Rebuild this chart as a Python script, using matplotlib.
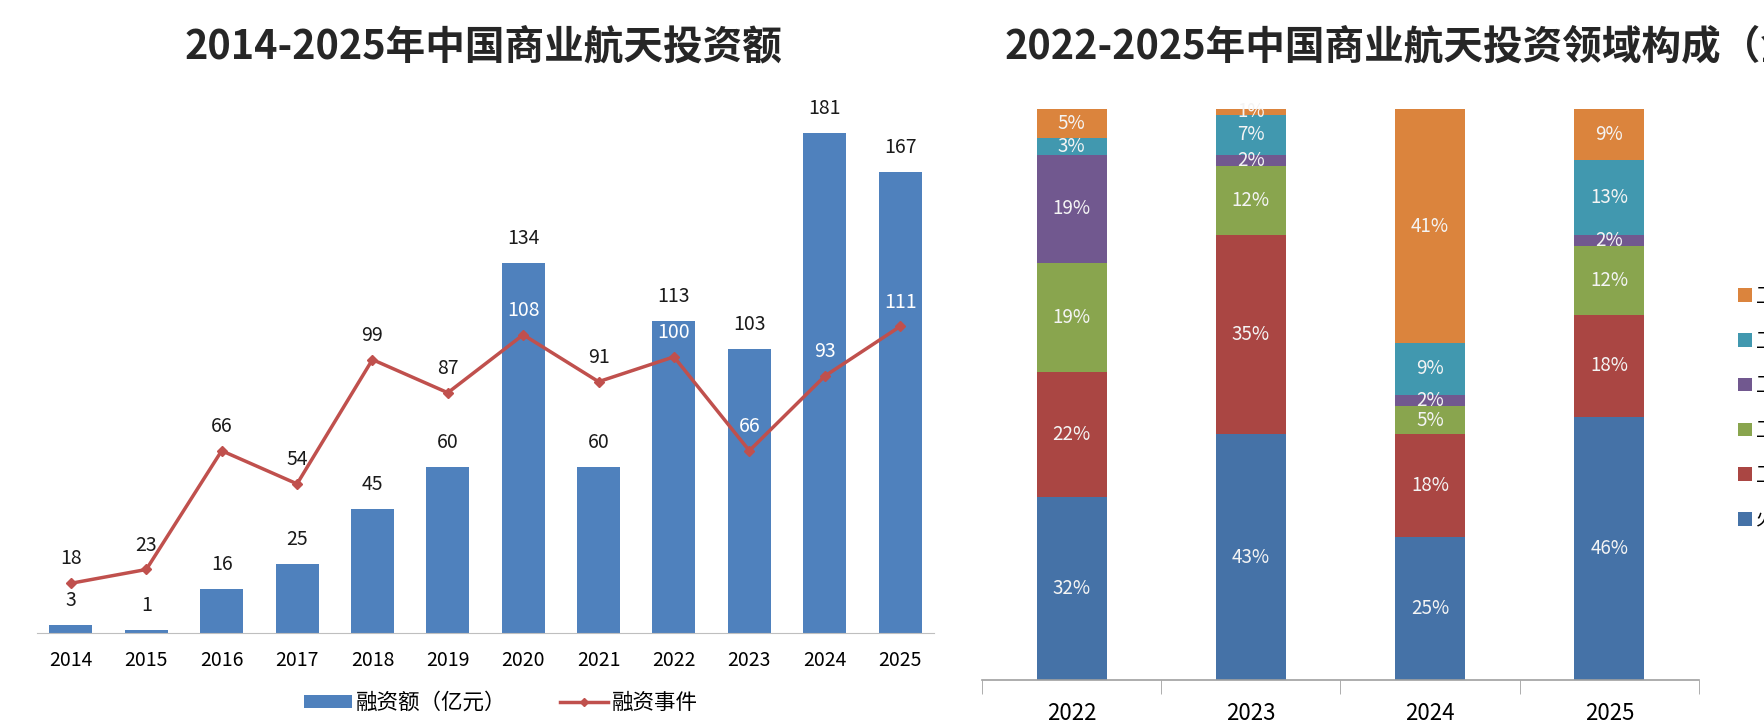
import matplotlib
matplotlib.use('Agg')
import matplotlib.pyplot as plt
from matplotlib.patches import Patch
from matplotlib.lines import Line2D
import numpy as np

plt.rcParams['font.family'] = ['Noto Sans CJK SC', 'DejaVu Sans']

# 左图: 投资额 + 融资事件
years = ['2014', '2015', '2016', '2017', '2018', '2019',
         '2020', '2021', '2022', '2023', '2024', '2025']
amount = [3, 1, 16, 25, 45, 60, 134, 60, 113, 103, 181, 167]
events = [18, 23, 66, 54, 99, 87, 108, 91, 100, 66, 93, 111]
# 事件标签落在柱子里面的用白字
event_white = [False, False, False, False, False, False,
               True, False, True, True, True, True]

# 右图: 领域构成 (%)
years_r = ['2022', '2023', '2024', '2025']
domains = ['火箭', '卫星制造', '卫星运营', '卫星应用', '卫星测控', '卫星互联网']
shares = {
    '火箭':     [32, 43, 25, 46],
    '卫星制造': [22, 35, 18, 18],
    '卫星运营': [19, 12, 5, 12],
    '卫星应用': [19, 2, 2, 2],
    '卫星测控': [3, 7, 9, 13],
    '卫星互联网': [5, 1, 41, 9],
}
colors_r = ['#4572A7', '#AA4643', '#89A54E', '#71588F', '#4198AF', '#DB843D']

W, H = 1765, 728
fig = plt.figure(figsize=(W / 100, H / 100), dpi=100)

# ---- left
ax = fig.add_axes([37 / W, (H - 633) / H, 897 / W, 533 / H])
x = np.arange(len(years))
ax.bar(x, amount, width=0.57, color='#4F81BD', zorder=2)
ax.plot(x, events, '-', color='#C0504D', linewidth=2.5, marker='D',
        markersize=5, zorder=3)
for i in range(len(years)):
    ax.annotate(str(amount[i]), (x[i], amount[i]), xytext=(0, 10),
                textcoords='offset points', ha='center', va='bottom',
                fontsize=14, color='#1a1a1a')
    ax.annotate(str(events[i]), (x[i], events[i]), xytext=(0, 10),
                textcoords='offset points', ha='center', va='bottom',
                fontsize=14, color='white' if event_white[i] else '#1a1a1a')
ax.set_xlim(-0.45, len(years) - 0.55)
ax.set_ylim(0, 193)
ax.set_xticks(x)
ax.set_xticklabels(years, fontsize=14)
ax.tick_params(axis='x', length=0, pad=12)
ax.set_yticks([])
for s in ['top', 'right', 'left']:
    ax.spines[s].set_visible(False)
ax.spines['bottom'].set_color('#bfbfbf')

fig.text(484 / W, 1 - 47 / H, '2014-2025年中国商业航天投资额',
         ha='center', va='center', fontsize=28.5, fontweight='bold',
         color='#262626')

handles = [Patch(facecolor='#4F81BD'),
           Line2D([], [], color='#C0504D', linewidth=2.5, marker='D', markersize=4)]
fig.legend(handles, ['融资额（亿元）', '融资事件'], loc='center',
           bbox_to_anchor=(501 / W, 1 - 703 / H), ncol=2, frameon=False,
           fontsize=15.5, handlelength=2.2, handleheight=0.6,
           columnspacing=2.5, handletextpad=0.2)

# ---- right
ax2 = fig.add_axes([982 / W, (H - 680) / H, 717 / W, 571 / H])
xr = np.arange(len(years_r))
bottom = np.zeros(len(years_r))
for d, c in zip(domains, colors_r):
    vals = np.array(shares[d], dtype=float)
    ax2.bar(xr, vals, width=0.39, bottom=bottom, color=c, zorder=2)
    for i, v in enumerate(vals):
        ax2.text(xr[i], bottom[i] + v / 2, f'{int(v)}%', ha='center',
                 va='center', fontsize=13.5, color='#f4f4f4', zorder=3)
    bottom += vals
ax2.set_xlim(-0.5, len(years_r) - 0.5)
ax2.set_ylim(0, 100)
ax2.set_xticks(xr)
ax2.set_xticklabels(years_r, fontsize=16)
ax2.set_xticks(np.arange(len(years_r) + 1) - 0.5, minor=True)
ax2.tick_params(axis='x', which='major', length=0, pad=16)
ax2.tick_params(axis='x', which='minor', length=10, color='#a0a0a0', direction='out')
ax2.set_yticks([])
for s in ['top', 'right', 'left']:
    ax2.spines[s].set_visible(False)
ax2.spines['bottom'].set_color('#a0a0a0')
ax2.spines['bottom'].set_linewidth(1.2)

fig.text(1005 / W, 1 - 47 / H, '2022-2025年中国商业航天投资领域构成（金额）',
         ha='left', va='center', fontsize=28.5, fontweight='bold',
         color='#262626')

# 图例在右边被裁掉, 和原图一样
leg_handles = [Patch(facecolor=c) for c in colors_r[::-1]]
fig.legend(leg_handles, domains[::-1], loc='upper left',
           bbox_to_anchor=(1738 / W, 1 - 286 / H), frameon=False,
           fontsize=14, handlelength=0.7, handleheight=0.7,
           labelspacing=1.22, borderpad=0, borderaxespad=0,
           handletextpad=0.25)

plt.savefig('out.png', dpi=100)
